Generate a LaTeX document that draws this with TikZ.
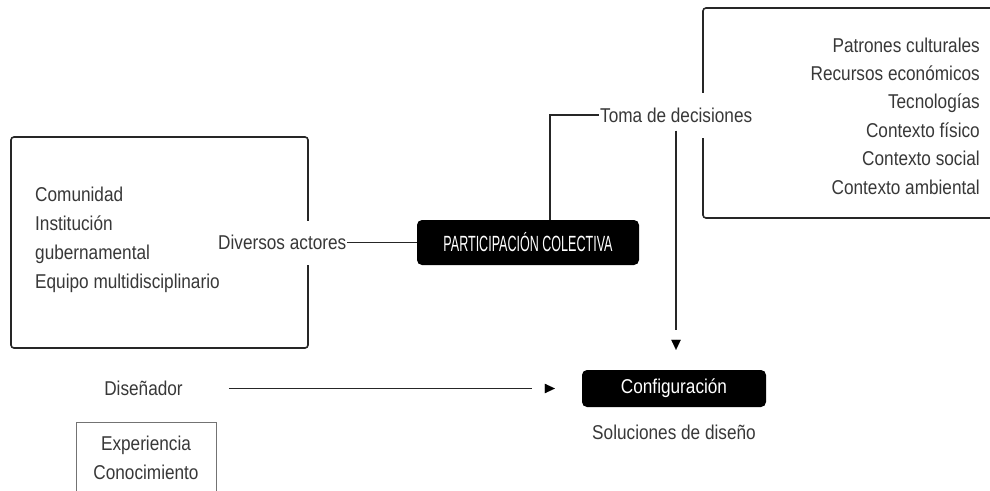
\documentclass[tikz,border=0pt]{standalone}
\usepackage{fontspec}
\setmainfont{Liberation Sans}[FakeStretch=0.86]
\newfontfamily\condfont{Liberation Sans}[FakeStretch=0.57]
\usetikzlibrary{arrows.meta,calc}
\begin{document}
\begin{tikzpicture}[x=1pt,y=-1pt,
  txt/.style={font=\fontsize{20}{29}\selectfont, text=black!78, inner sep=0pt},
  bigbox/.style={draw=black!85, line width=1.6pt, rounded corners=3pt},
  thinbox/.style={draw=black!55, line width=0.8pt},
  blackbox/.style={fill=black, rounded corners=5pt, text=white, inner sep=0pt},
  conn/.style={draw=black!85, line width=1.1pt},
  tiphead/.style={-{Triangle[length=10pt,width=9.5pt]}, black, line width=0.1pt}]
\useasboundingbox (0,0) rectangle (990,490);
\fill[white] (0,0) rectangle (990,490);

% frames
\draw[bigbox] (11,137) rectangle (308,348);
\draw[bigbox] (703,8) rectangle (1010,218);
\draw[thinbox] (76,422) rectangle (216,500);

% texts
\node[txt, anchor=west, align=left] (actlist) at (35,240)
  {Comunidad\\Institución\\gubernamental\\Equipo multidisciplinario};
\node[txt, anchor=east, align=right, font=\fontsize{20}{28.4}\selectfont] (factors) at (980,116)
  {Patrones culturales\\Recursos económicos\\Tecnologías\\Contexto físico\\Contexto social\\Contexto ambiental};
\node[txt, anchor=west, fill=white, minimum height=44pt, inner xsep=1pt] (div) at (217,242.5) {Diversos actores};
\node[blackbox, minimum width=222pt, minimum height=45pt] (pc) at (528,242.5)
  {\condfont\fontsize{22}{22}\selectfont PARTICIPACIÓN COLECTIVA};
\node[txt, anchor=west, fill=white, minimum height=45pt, inner xsep=1pt] (toma) at (599,115) {Toma de decisiones};
\node[blackbox, minimum width=184pt, minimum height=37pt, font=\fontsize{20}{29}\selectfont] (conf) at (674,388.5) {Configuración};
\node[txt] (sol) at (674,432) {Soluciones de diseño};
\node[txt] (dis) at (143.5,388.5) {Diseñador};
\node[txt, align=center] (exp) at (146,458) {Experiencia\\Conocimiento};

% connectors
\coordinate (kx) at (550,0);
\coordinate (dx) at (676,0);
\draw[conn] (div.east) -- (pc.west);
\draw[conn] (pc.north -| kx) |- (toma.west);
\draw[conn, shorten >=40pt] ([yshift=7pt]toma.south -| dx) -- (conf.north -| dx);
\draw[tiphead] ($(conf.north -| dx)+(0,-30)$) -- ($(conf.north -| dx)+(0,-20)$);
\draw[conn, shorten <=46pt, shorten >=50pt] (dis.east) -- (conf.west);
\draw[tiphead] ($(conf.west)+(-37,0)$) -- ($(conf.west)+(-27,0)$);
\end{tikzpicture}
\end{document}
